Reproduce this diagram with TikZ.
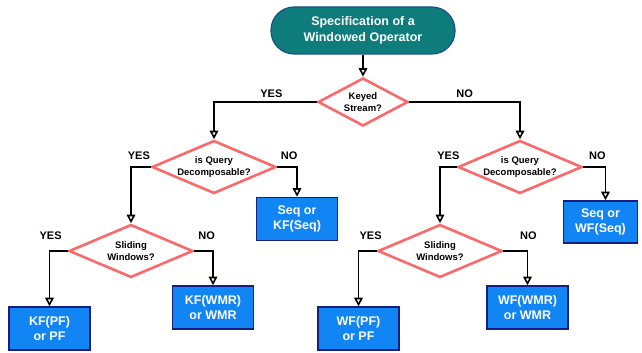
\documentclass[tikz,border=0pt]{standalone}
\usepackage{fontspec}
\setmainfont{Liberation Sans}
\usepackage{tikz}
\usetikzlibrary{shapes.geometric, arrows.meta, positioning}
\definecolor{opteal}{RGB}{14,124,123}
\definecolor{opedge}{RGB}{28,78,140}
\definecolor{decred}{RGB}{250,106,106}
\definecolor{resblue}{RGB}{18,133,245}
\definecolor{resedge}{RGB}{22,30,130}

\begin{document}
\begin{tikzpicture}[
		x=1pt, y=1pt,
		start/.style={rectangle, rounded corners=23pt, draw=opedge, line width=1.2pt, fill=opteal, text=white, font=\bfseries\fontsize{12.5}{16}\selectfont, minimum width=184pt, minimum height=47pt, align=center},
		decision/.style={diamond, aspect=2.3, draw=decred, line width=2.6pt, fill=white, font=\bfseries\fontsize{9.5}{11.5}\selectfont, align=center, inner sep=0pt, minimum width=124pt, minimum height=53pt},
		result/.style={rectangle, draw=resedge, line width=1.5pt, fill=resblue, text=white, font=\bfseries\fontsize{12.5}{15}\selectfont, align=center, minimum width=81pt, minimum height=43pt},
		answer/.style={font=\bfseries\fontsize{11}{13}\selectfont, inner sep=0pt},
		flow/.style={-{Triangle[open, length=8.5pt, width=8.5pt]}, line width=1.6pt}
		]
	
		\useasboundingbox (0,0) rectangle (642,353);
	
		% top
		\node[start] (op) at (363, 322.5) {Specification of a\\Windowed Operator};
		\node[decision, minimum width=90pt, minimum height=48pt] (keyed) at (363, 251) {Keyed\\Stream?};
	
		% keyed branch
		\node[decision] (queryK) at (214, 186) {is Query\\Decomposable?};
		\node[result] (seqK) at (297, 134) {Seq or\\KF(Seq)};
		\node[decision] (slideK) at (131, 102) {Sliding\\Windows?};
		\node[result] (kfpf) at (49.5, 24.5) {KF(PF)\\or PF};
		\node[result] (kfwmr) at (213, 45.5) {KF(WMR)\\or WMR};
	
		% non keyed branch
		\node[decision] (queryW) at (520, 186) {is Query\\Decomposable?};
		\node[result, minimum width=74pt, minimum height=42pt] (seqW) at (600.5, 131) {Seq or\\WF(Seq)};
		\node[decision] (slideW) at (440, 102) {Sliding\\Windows?};
		\node[result] (wfpf) at (358.5, 24.5) {WF(PF)\\or PF};
		\node[result] (wfwmr) at (527.5, 45.5) {WF(WMR)\\or WMR};
	
		\draw[flow] (op) -- (keyed);
		\draw[flow] (keyed.west) -| (queryK.north) node[answer, pos=0.25, above=4pt, xshift=6pt] {YES};
		\draw[flow] (keyed.east) -| (queryW.north) node[answer, pos=0.25, above=4pt] {NO};
	
		\draw[flow] (queryK.west) -| (slideK.north) node[answer, pos=0.25, above=7pt, xshift=-2pt] {YES};
		\draw[flow] (queryK.east) -| (seqK.north) node[answer, pos=0.25, above=7pt, xshift=2pt] {NO};
		\draw[flow] (slideK.west) -| (kfpf.north) node[answer, pos=0.25, above=11pt, xshift=-8pt] {YES};
		\draw[flow] (slideK.east) -| (kfwmr.north) node[answer, pos=0.25, above=11pt, xshift=3pt] {NO};
	
		\draw[flow] (queryW.west) -| (slideW.north) node[answer, pos=0.25, above=7pt] {YES};
		\draw[flow] (queryW.east) -| ([xshift=5pt]seqW.north) node[answer, pos=0.25, above=7pt, xshift=3pt] {NO};
		\draw[flow] (slideW.west) -| (wfpf.north) node[answer, pos=0.25, above=11pt, xshift=3pt] {YES};
		\draw[flow] (slideW.east) -| (wfwmr.north) node[answer, pos=0.25, above=11pt, xshift=13pt] {NO};
	\end{tikzpicture}
\end{document}
